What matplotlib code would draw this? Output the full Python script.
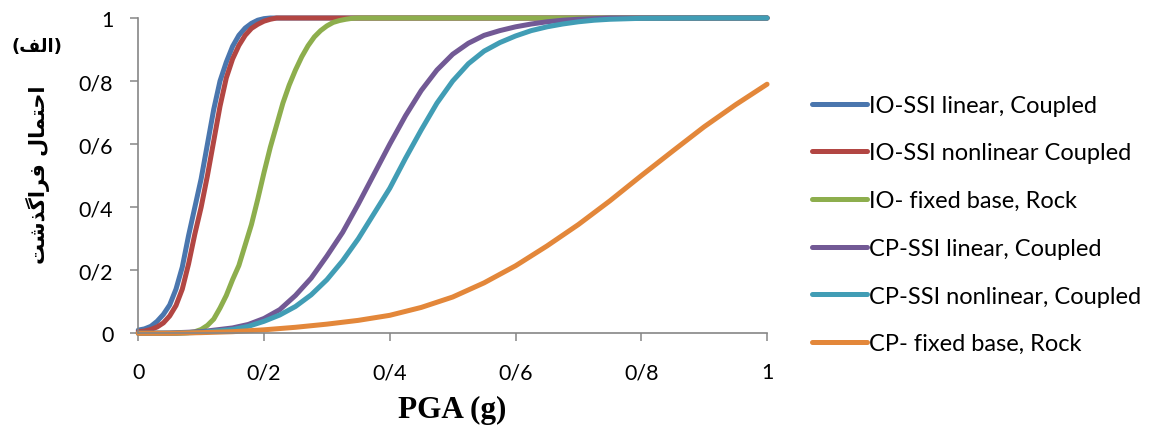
import matplotlib
matplotlib.use("Agg")
from matplotlib import pyplot as plt

# values (PGA in g, probability of exceedance)
pga_io = [0.0, 0.01, 0.02, 0.03, 0.04, 0.05, 0.06, 0.07, 0.08, 0.09, 0.10, 0.11, 0.12,
          0.13, 0.14, 0.15, 0.16, 0.17, 0.18, 0.19, 0.20, 0.21, 0.22, 0.23, 0.24, 0.25,
          0.26, 0.27, 0.28, 0.29, 0.30, 0.31, 0.32, 0.33, 0.34, 0.35, 0.40, 0.60, 0.80, 1.0]
io_ssi_linear = [0.01, 0.014, 0.022, 0.038, 0.06, 0.09, 0.14, 0.21, 0.31, 0.40, 0.49, 0.60, 0.71,
                 0.80, 0.86, 0.91, 0.945, 0.968, 0.983, 0.993, 0.998, 1.0, 1.0, 1.0, 1.0, 1.0,
                 1.0, 1.0, 1.0, 1.0, 1.0, 1.0, 1.0, 1.0, 1.0, 1.0, 1.0, 1.0, 1.0, 1.0]
io_ssi_nonlinear = [0.005, 0.007, 0.012, 0.02, 0.033, 0.055, 0.088, 0.14, 0.22, 0.315, 0.40, 0.50, 0.61,
                    0.72, 0.81, 0.87, 0.913, 0.945, 0.967, 0.98, 0.99, 0.996, 1.0, 1.0, 1.0, 1.0,
                    1.0, 1.0, 1.0, 1.0, 1.0, 1.0, 1.0, 1.0, 1.0, 1.0, 1.0, 1.0, 1.0, 1.0]
io_fixed_rock = [0.0, 0.0, 0.0, 0.0, 0.0, 0.0, 0.0, 0.001, 0.002, 0.005, 0.012, 0.025, 0.045,
                 0.08, 0.12, 0.17, 0.215, 0.28, 0.345, 0.425, 0.51, 0.59, 0.66, 0.73, 0.787, 0.835,
                 0.877, 0.912, 0.94, 0.96, 0.975, 0.986, 0.992, 0.996, 0.999, 1.0, 1.0, 1.0, 1.0, 1.0]

pga_cp = [0.0, 0.05, 0.10, 0.15, 0.175, 0.20, 0.225, 0.25, 0.275, 0.30, 0.325, 0.35,
          0.375, 0.40, 0.425, 0.45, 0.475, 0.50, 0.525, 0.55, 0.575, 0.60, 0.625, 0.65,
          0.675, 0.70, 0.725, 0.75, 0.80, 0.90, 1.0]
cp_ssi_linear = [0.0, 0.001, 0.005, 0.017, 0.028, 0.047, 0.075, 0.12, 0.175, 0.245, 0.32, 0.41,
                 0.505, 0.60, 0.69, 0.77, 0.835, 0.885, 0.92, 0.945, 0.96, 0.972, 0.981, 0.988,
                 0.993, 0.996, 0.998, 1.0, 1.0, 1.0, 1.0]
cp_ssi_nonlinear = [0.0, 0.0, 0.003, 0.012, 0.022, 0.038, 0.058, 0.085, 0.122, 0.17, 0.23, 0.30,
                    0.38, 0.46, 0.555, 0.645, 0.73, 0.80, 0.855, 0.895, 0.922, 0.943, 0.96, 0.972,
                    0.981, 0.988, 0.993, 0.996, 0.999, 1.0, 1.0]

pga_rock = [0.0, 0.05, 0.10, 0.15, 0.20, 0.25, 0.30, 0.35, 0.40, 0.45, 0.50,
            0.55, 0.60, 0.65, 0.70, 0.75, 0.80, 0.85, 0.90, 0.95, 1.0]
cp_fixed_rock = [0.0, 0.0, 0.002, 0.005, 0.011, 0.019, 0.029, 0.041, 0.057, 0.082, 0.115,
                 0.16, 0.214, 0.277, 0.345, 0.42, 0.50, 0.578, 0.655, 0.725, 0.79]

labels = ["IO-SSI linear, Coupled", "IO-SSI nonlinear Coupled", "IO- fixed base, Rock",
          "CP-SSI linear, Coupled", "CP-SSI nonlinear, Coupled", "CP- fixed base, Rock"]
colors = ["#4A76AE", "#B24643", "#8DAE4D", "#725995", "#419DB5", "#E3873A"]

tick_vals = [0, 0.2, 0.4, 0.6, 0.8, 1]
tick_text = ["0", "0/2", "0/4", "0/6", "0/8", "1"]

# Persian y label, pre-shaped (presentation forms, visual order) since matplotlib has no shaping
ylabel_fa = "\uFE96\uFEB7\uFEAC\uFB94\uFE8D\uFEAE\uFED3 \uFEDD\uFE8E\uFEE4\uFE98\uFEA3\uFE8D"
part_fa = "(\uFED2\uFEDF\uFE8D)"

fig = plt.figure(figsize=(11.58, 4.31), dpi=100)
ax = fig.add_axes([0.1194, 0.2244, 0.543, 0.7315])

series = [(pga_io, io_ssi_linear), (pga_io, io_ssi_nonlinear), (pga_io, io_fixed_rock),
          (pga_cp, cp_ssi_linear), (pga_cp, cp_ssi_nonlinear), (pga_rock, cp_fixed_rock)]
for (xs, ys), lab, col in zip(series, labels, colors):
    ax.plot(xs, ys, color=col, lw=3.6, label=lab, clip_on=False,
            solid_capstyle="round", solid_joinstyle="round")

ax.set_xlim(0, 1)
ax.set_ylim(0, 1)
ax.set_xticks(tick_vals)
ax.set_xticklabels(tick_text)
ax.set_yticks(tick_vals)
ax.set_yticklabels(tick_text)

for s in ["top", "right"]:
    ax.spines[s].set_visible(False)
for s in ["left", "bottom"]:
    ax.spines[s].set_color("#868686")
    ax.spines[s].set_linewidth(1.2)
ax.tick_params(axis="both", colors="#868686", width=1.1, length=6, labelcolor="black",
               labelsize=15.5)
ax.tick_params(axis="x", pad=15)
ax.tick_params(axis="y", pad=12)
for t in ax.get_xticklabels() + ax.get_yticklabels():
    t.set_family("Lato")

ax.set_xlabel("PGA (g)", family="Liberation Serif", fontweight="bold", fontsize=22.5,
              labelpad=9)

fig.text(0.033, 0.594, ylabel_fa, rotation=90, ha="center", va="center",
         family="DejaVu Sans", fontweight="bold", fontsize=15)
fig.text(0.032, 0.891, part_fa, ha="center", va="center",
         family="DejaVu Sans", fontweight="bold", fontsize=13)

leg = fig.legend(loc="center left", bbox_to_anchor=(0.701, 0.4768),
                 bbox_transform=fig.transFigure, frameon=False, borderpad=0,
                 borderaxespad=0, handlelength=2.33, handletextpad=0.1,
                 labelspacing=1.13, prop={"family": "Lato", "size": 17})

fig.savefig("out.png", dpi=100)
